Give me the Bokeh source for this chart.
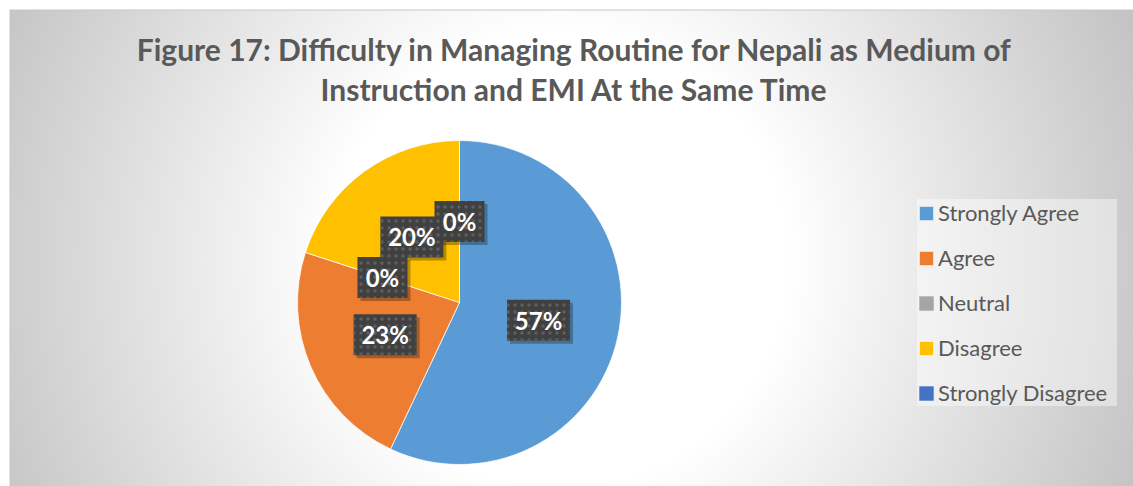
import numpy as np
from bokeh.plotting import figure
from bokeh.models import ColumnDataSource, Range1d, Legend, LegendItem
from bokeh.core.properties import value
from bokeh.embed import file_html
from bokeh.resources import INLINE

# ---------------- data ----------------
categories = ["Strongly Agree", "Agree", "Neutral", "Disagree", "Strongly Disagree"]
percentages = [57, 23, 0, 20, 0]
colors = ["#5B9BD5", "#ED7D31", "#A5A5A5", "#FFC000", "#4472C4"]
title_lines = ["Figure 17: Difficulty in Managing Routine for Nepali as Medium of",
               "Instruction and EMI At the Same Time"]

# ---------------- layout ----------------
W, H = 1133, 486
FONT = "Lato"
cx, cy, R = 459, H - 302, 162          # pie centre / radius (pixels)

p = figure(width=W, height=H, output_backend="svg", toolbar_location=None,
           x_range=Range1d(0, W), y_range=Range1d(0, H),
           x_axis_location=None, y_axis_location=None, min_border=0)
p.xgrid.visible = False
p.ygrid.visible = False
p.outline_line_color = None
p.background_fill_color = "white"
p.border_fill_color = "white"

# radial grey chart-area background (decoration), starting 9px from top/left
X0, Y0 = 9, 9
cw, ch = W - X0, H - Y0
yy, xx = np.mgrid[0:ch, 0:cw]
sy = H - yy - 0.5                      # screen y (top-down) of each image row
sx = X0 + xx + 0.5
gx, gy = 560.0, 260.0
r = np.sqrt((sx - gx) ** 2 + (sy - gy) ** 2)
t = np.clip((r - 230.0) / 390.0, 0, 1)
v = (255 - 59 * t)
v[-1, :] = np.minimum(v[-1, :], 200)   # top border line
v[:, 0] = np.minimum(v[:, 0], 200)     # left border line
v = v.astype(np.uint32)
img = (np.uint32(255) << 24) | (v << 16) | (v << 8) | v
p.image_rgba(image=[img.astype(np.uint32)], x=X0, y=0, dw=cw, dh=ch)

# ---------------- pie ----------------
vals = np.array(percentages, dtype=float)
total = vals.sum()
cum_after = np.cumsum(vals) / total
cum_before = cum_after - vals / total
start = np.pi / 2 - 2 * np.pi * cum_before
end = np.pi / 2 - 2 * np.pi * cum_after
mid = np.pi / 2 - 2 * np.pi * (cum_before + vals / total / 2)

items = []
for i, c in enumerate(categories):
    s = ColumnDataSource(dict(start=[start[i]], end=[end[i]],
                              rad=[R if vals[i] > 0 else 0.0]))
    wr = p.wedge(x=cx, y=cy, radius="rad", start_angle="start", end_angle="end",
                 direction="clock", fill_color=colors[i],
                 line_color="white" if vals[i] > 0 else None,
                 line_width=0.75, source=s)
    items.append(LegendItem(label=c, renderers=[wr]))

# ---------------- data labels ----------------
labels = [f"{int(v_)}%" for v_ in percentages]
lx = cx + 0.5 * R * np.cos(mid)
ly = cy + 0.5 * R * np.sin(mid)
bw = [24 + 13 * len(s_) for s_ in labels]
lsrc = ColumnDataSource(dict(x=lx, y=ly, sx=lx + 3, sy=ly - 3, w=bw, text=labels))
p.rect(x="sx", y="sy", width="w", height=41, fill_color="black", fill_alpha=0.28,
       line_color=None, source=lsrc)
p.rect(x="x", y="y", width="w", height=41, fill_color="#404040", line_color=None,
       hatch_pattern="dot", hatch_color="#5e5e5e", hatch_scale=7, hatch_weight=2,
       source=lsrc)
p.text(x="x", y="y", text="text", text_align="center", text_baseline="middle",
       text_color="white", text_font=value(FONT), text_font_style="bold",
       text_font_size="24px", source=lsrc)

# ---------------- title ----------------
p.text(x=[574, 574], y=[H - 48, H - 88], text=title_lines, text_align="center",
       text_baseline="alphabetic", text_color="#595959", text_font=value(FONT),
       text_font_style="bold", text_font_size="30px")

# ---------------- legend ----------------
legend = Legend(items=items, location=(917, 80), orientation="vertical",
                glyph_width=18, glyph_height=18, label_standoff=3,
                label_text_font=FONT, label_text_font_size="22px",
                label_text_color="#595959", label_height=26, label_width=179,
                spacing=18, padding=10, margin=0, border_line_color=None,
                background_fill_color="white", background_fill_alpha=0.42)
p.add_layout(legend)

open("out.html", "w").write(file_html(p, INLINE))
